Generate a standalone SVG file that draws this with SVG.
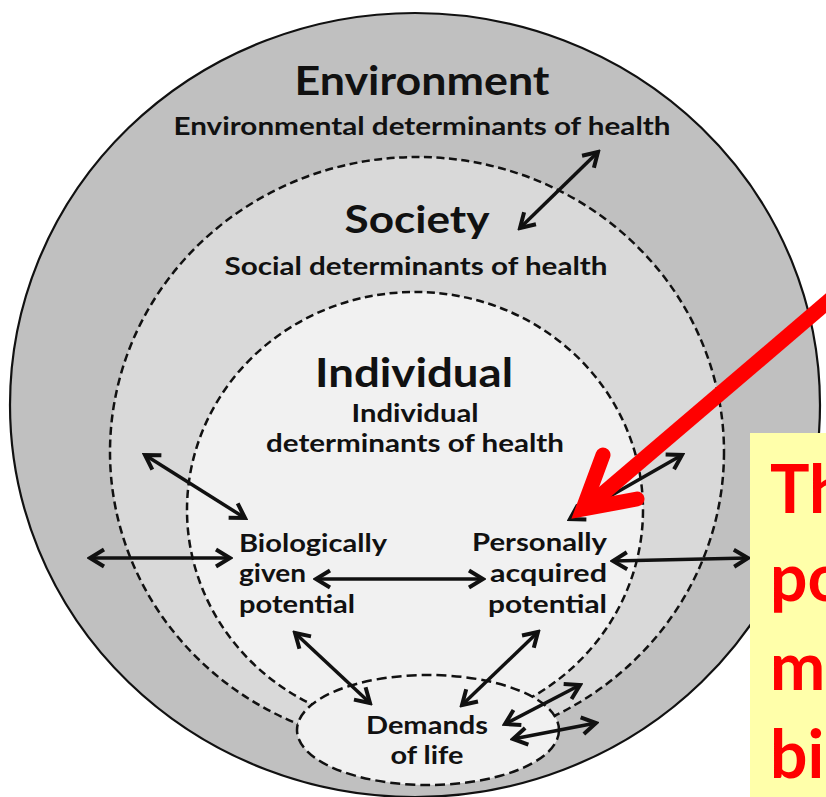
<svg xmlns="http://www.w3.org/2000/svg" width="826" height="797" viewBox="0 0 826 797">
<style>
.dash{fill:none;stroke:#111;stroke-width:2.5;stroke-dasharray:8 4.5}
.t{font-family:Lato,"Open Sans","Liberation Sans",sans-serif;font-weight:bold;fill:#111}
.c{text-anchor:middle}
.ar{fill:none;stroke:#111;stroke-width:3.5;marker-start:url(#ah);marker-end:url(#ah)}
.red{font-family:Lato,"Open Sans","Liberation Sans",sans-serif;font-weight:bold;fill:#ff0000;font-size:66px}
</style>
<defs>
<marker id="ah" viewBox="-18 -12 21 24" refX="0" refY="0" markerWidth="21" markerHeight="24" markerUnits="userSpaceOnUse" orient="auto-start-reverse">
<path d="M-14,-8.5 L0,0 L-14,8.5" fill="none" stroke="#111" stroke-width="4" stroke-linejoin="miter"/>
</marker>
</defs>
<rect width="826" height="797" fill="#ffffff"/>
<g id="environment">
<ellipse cx="415" cy="405" rx="405" ry="392" fill="#c0c0c0" stroke="#111" stroke-width="2.2"/>
<text class="t c" x="422" y="95" font-size="40" textLength="255" lengthAdjust="spacingAndGlyphs">Environment</text>
<text class="t c" x="422" y="135" font-size="25" textLength="497" lengthAdjust="spacingAndGlyphs">Environmental determinants of health</text>
</g>
<g id="society">
<ellipse class="dash" cx="417" cy="452" rx="307" ry="295" style="fill:#d9d9d9"/>
<text class="t c" x="417" y="233" font-size="38" textLength="145" lengthAdjust="spacingAndGlyphs">Society</text>
<text class="t c" x="416" y="275" font-size="25" textLength="383" lengthAdjust="spacingAndGlyphs">Social determinants of health</text>
</g>
<g id="individual">
<ellipse class="dash" cx="415" cy="510" rx="228" ry="218" style="fill:#f1f1f1"/>
<text class="t c" x="414" y="387" font-size="40" textLength="198" lengthAdjust="spacingAndGlyphs">Individual</text>
<text class="t c" x="415" y="422" font-size="25" textLength="127" lengthAdjust="spacingAndGlyphs">Individual</text>
<text class="t c" x="415" y="452" font-size="25" textLength="298" lengthAdjust="spacingAndGlyphs">determinants of health</text>
</g>
<g id="demands">
<ellipse cx="428" cy="730" rx="131" ry="55" style="fill:#f1f1f1;stroke:#111;stroke-width:2.5;stroke-dasharray:10 5"/>
<text class="t c" x="427" y="734" font-size="25" textLength="122" lengthAdjust="spacingAndGlyphs">Demands</text>
<text class="t c" x="427" y="764" font-size="25" textLength="73" lengthAdjust="spacingAndGlyphs">of life</text>
</g>
<g id="biological">
<text class="t" x="239" y="552" font-size="24" textLength="148" lengthAdjust="spacingAndGlyphs">Biologically</text>
<text class="t" x="239" y="582" font-size="24" textLength="67" lengthAdjust="spacingAndGlyphs">given</text>
<text class="t" x="239" y="613" font-size="24" textLength="116" lengthAdjust="spacingAndGlyphs">potential</text>
</g>
<g id="personal">
<text class="t" x="607" y="551" font-size="24" text-anchor="end" textLength="135" lengthAdjust="spacingAndGlyphs">Personally</text>
<text class="t" x="607" y="582" font-size="24" text-anchor="end" textLength="117" lengthAdjust="spacingAndGlyphs">acquired</text>
<text class="t" x="607" y="613" font-size="24" text-anchor="end" textLength="119" lengthAdjust="spacingAndGlyphs">potential</text>
</g>
<g id="connectors">
<line class="ar" x1="520" y1="228" x2="598" y2="152"/>
<line class="ar" x1="145" y1="455" x2="245" y2="518"/>
<line class="ar" x1="90" y1="558" x2="230" y2="558"/>
<line class="ar" x1="316" y1="579" x2="483" y2="579"/>
<line class="ar" x1="613" y1="561" x2="748" y2="558"/>
<line class="ar" x1="570" y1="519" x2="682" y2="455"/>
<line class="ar" x1="295" y1="633" x2="370" y2="703"/>
<line class="ar" x1="538" y1="632" x2="462" y2="705"/>
<line class="ar" x1="505" y1="724" x2="580" y2="685"/>
<line class="ar" x1="513" y1="739" x2="596" y2="723"/>
</g>
<g id="red-arrow">
<line x1="845" y1="287" x2="586" y2="508" stroke="#ff0000" stroke-width="15"/>
<polyline points="603,455 583,509 637,499" fill="none" stroke="#ff0000" stroke-width="15" stroke-linecap="round" stroke-linejoin="miter"/>
</g>
<g id="note">
<rect x="750" y="433" width="90" height="370" fill="#ffffaa"/>
<text class="red" x="770" y="513">Th</text>
<text class="red" x="770" y="601">po</text>
<text class="red" x="770" y="690">m</text>
<text class="red" x="770" y="778">bi</text>
</g>
</svg>
